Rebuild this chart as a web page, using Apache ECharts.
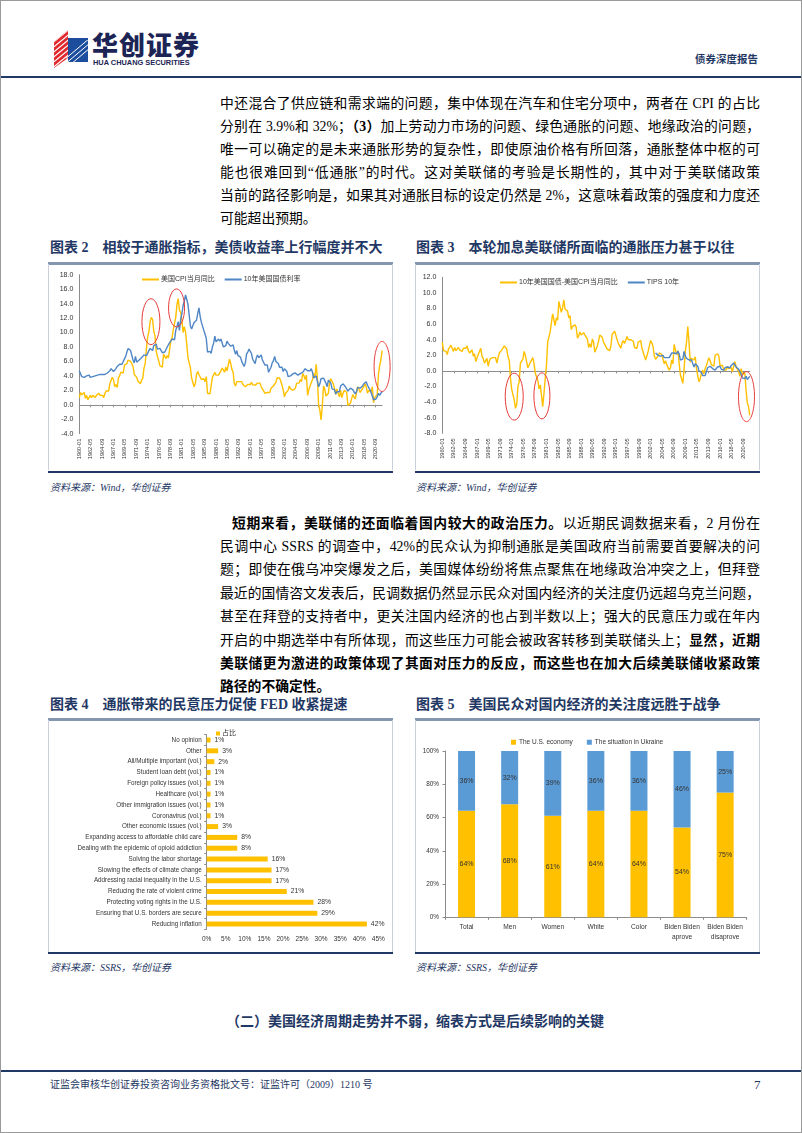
<!DOCTYPE html>
<html><head><meta charset="utf-8">
<script src="https://cdn.jsdelivr.net/npm/echarts@6/dist/echarts.min.js"></script>
<style>
html,body{margin:0;padding:0;background:#fff;}
#page{position:relative;width:802px;height:1133px;overflow:hidden;background:#fff;font-family:"Liberation Serif","Noto Sans CJK SC",serif;color:#000;}
#frame{position:absolute;left:0;top:0;width:800px;height:1131px;border:1px solid #9a9a9a;pointer-events:none;}
.ln{position:absolute;left:220px;width:540px;height:23px;line-height:23px;font-size:13.8px;text-align:justify;text-align-last:justify;}
.ln.last{text-align-last:left;}
.ttl{position:absolute;font-size:14px;font-weight:bold;color:#1f3864;line-height:16px;white-space:nowrap;}
.ttl span.t{margin-left:14px;}
.src{position:absolute;font-size:10px;font-style:italic;color:#1f3864;white-space:nowrap;line-height:12px;}
.rule{position:absolute;height:3px;background:#8497b0;}
.navy{position:absolute;height:2px;background:#1f3864;}
.side{position:absolute;width:1px;background:#c9d0dc;}
.chart{position:absolute;}
</style></head><body><div id="page">

<!-- header -->
<svg style="position:absolute;left:54px;top:30px" width="36" height="38" viewBox="0 0 36 38">
  <defs><clipPath id="cr"><polygon points="0,12 14,0 14,28 0,38"/></clipPath>
  <clipPath id="cb"><polygon points="12,10 34,10 34,32 12,32"/></clipPath></defs>
  <polygon points="0,12 14,0 14,28 0,38" fill="#e0282d"/>
  <g clip-path="url(#cr)" stroke="#fff" stroke-width="1.2">
    <line x1="-4" y1="10" x2="18" y2="-8"/><line x1="-4" y1="15" x2="18" y2="-3"/><line x1="-4" y1="20" x2="18" y2="2"/>
    <line x1="-4" y1="25" x2="18" y2="7"/><line x1="-4" y1="30" x2="18" y2="12"/><line x1="-4" y1="35" x2="18" y2="17"/>
    <line x1="-4" y1="40" x2="18" y2="22"/><line x1="-4" y1="45" x2="18" y2="27"/>
  </g>
  <polygon points="14,8 34,8 34,32 14,32" fill="#1d4e9e"/>
  <g clip-path="url(#cb)" stroke="#fff" stroke-width="1">
    <line x1="10" y1="30" x2="36" y2="8"/><line x1="10" y1="35" x2="36" y2="13"/><line x1="10" y1="40" x2="36" y2="18"/>
  </g>
</svg>
<div style="position:absolute;left:92px;top:29px;font-family:'Noto Sans CJK SC';font-weight:900;font-size:26px;letter-spacing:1px;color:#1b2455;line-height:30px;">华创证券</div>
<div style="position:absolute;left:93px;top:58px;font-family:'Liberation Sans';font-weight:bold;font-size:7.4px;color:#1b2455;line-height:9px;white-space:nowrap;">HUA CHUANG SECURITIES</div>
<div style="position:absolute;left:695px;top:52px;font-family:'Noto Sans CJK SC';font-weight:bold;font-size:10.5px;color:#1f3864;line-height:14px;">债券深度报告</div>
<div class="navy" style="left:0;top:76px;width:802px;height:2px;"></div>

<!-- paragraph 1 -->
<div class="ln" style="top:92px">中还混合了供应链和需求端的问题，集中体现在汽车和住宅分项中，两者在 CPI 的占比</div>
<div class="ln" style="top:115px">分别在 3.9%和 32%；<b>（3）</b>加上劳动力市场的问题、绿色通胀的问题、地缘政治的问题，</div>
<div class="ln" style="top:138px">唯一可以确定的是未来通胀形势的复杂性，即使原油价格有所回落，通胀整体中枢的可</div>
<div class="ln" style="top:161px">能也很难回到“低通胀”的时代。这对美联储的考验是长期性的，其中对于美联储政策</div>
<div class="ln" style="top:184px">当前的路径影响是，如果其对通胀目标的设定仍然是 2%，这意味着政策的强度和力度还</div>
<div class="ln last" style="top:207px">可能超出预期。</div>

<!-- titles row 1 -->
<div class="ttl" style="left:50px;top:240px">图表 2<span class="t">相较于通胀指标，美债收益率上行幅度并不大</span></div>
<div class="ttl" style="left:416px;top:240px">图表 3<span class="t">本轮加息美联储所面临的通胀压力甚于以往</span></div>
<div class="rule" style="left:48px;top:262px;width:345px"></div>
<div class="rule" style="left:415px;top:262px;width:345px"></div>
<div class="side" style="left:48px;top:264px;height:206px"></div>
<div class="side" style="left:392px;top:264px;height:206px"></div>
<div class="side" style="left:415px;top:264px;height:206px"></div>
<div class="side" style="left:759px;top:264px;height:206px"></div>
<div class="chart" id="c1" style="left:49px;top:265px;width:343px;height:204px"></div>
<div class="chart" id="c3" style="left:416px;top:265px;width:343px;height:204px"></div>
<div class="navy" style="left:48px;top:471px;width:345px"></div>
<div class="navy" style="left:415px;top:471px;width:345px"></div>
<div class="src" style="left:50px;top:482px">资料来源：Wind，华创证券</div>
<div class="src" style="left:416px;top:482px">资料来源：Wind，华创证券</div>

<!-- paragraph 2 -->
<div class="ln" style="top:511.5px;left:232px;width:528px"><b>短期来看，美联储的还面临着国内较大的政治压力。</b>以近期民调数据来看，2 月份在</div>
<div class="ln" style="top:534.9px">民调中心 SSRS 的调查中，42%的民众认为抑制通胀是美国政府当前需要首要解决的问</div>
<div class="ln" style="top:558.3px">题；即使在俄乌冲突爆发之后，美国媒体纷纷将焦点聚焦在地缘政治冲突之上，但拜登</div>
<div class="ln" style="top:581.7px">最近的国情咨文发表后，民调数据仍然显示民众对国内经济的关注度仍远超乌克兰问题，</div>
<div class="ln" style="top:605.1px">甚至在拜登的支持者中，更关注国内经济的也占到半数以上；强大的民意压力或在年内</div>
<div class="ln" style="top:628.5px">开启的中期选举中有所体现，而这些压力可能会被政客转移到美联储头上；<b>显然，近期</b></div>
<div class="ln" style="top:651.9px"><b>美联储更为激进的政策体现了其面对压力的反应，而这些也在加大后续美联储收紧政策</b></div>
<div class="ln last" style="top:675.3px"><b>路径的不确定性。</b></div>

<!-- titles row 2 -->
<div class="ttl" style="left:50px;top:697px">图表 4<span class="t">通胀带来的民意压力促使 FED 收紧提速</span></div>
<div class="ttl" style="left:416px;top:697px">图表 5<span class="t">美国民众对国内经济的关注度远胜于战争</span></div>
<div class="rule" style="left:48px;top:718px;width:345px"></div>
<div class="rule" style="left:415px;top:718px;width:345px"></div>
<div class="side" style="left:48px;top:720px;height:232px"></div>
<div class="side" style="left:392px;top:720px;height:232px"></div>
<div class="side" style="left:415px;top:720px;height:232px"></div>
<div class="side" style="left:759px;top:720px;height:232px"></div>
<div class="chart" id="c4" style="left:49px;top:721px;width:343px;height:231px"></div>
<div class="chart" id="c5" style="left:416px;top:721px;width:343px;height:231px"></div>
<div class="navy" style="left:48px;top:952px;width:345px"></div>
<div class="navy" style="left:415px;top:952px;width:345px"></div>
<div class="src" style="left:50px;top:962px">资料来源：SSRS，华创证券</div>
<div class="src" style="left:416px;top:962px">资料来源：SSRS，华创证券</div>

<div style="position:absolute;left:226px;top:1013px;font-size:14px;font-weight:bold;color:#1f3864;line-height:18px;white-space:nowrap;">（二）美国经济周期走势并不弱，缩表方式是后续影响的关键</div>

<!-- footer -->
<div class="navy" style="left:0;top:1070px;width:802px;height:2px;"></div>
<div style="position:absolute;left:50px;top:1078px;font-size:10px;color:#1f3864;line-height:14px;white-space:nowrap;">证监会审核华创证券投资咨询业务资格批文号：证监许可（2009）1210 号</div>
<div style="position:absolute;left:754px;top:1077px;font-size:13px;color:#1f3864;line-height:16px;">7</div>
<div id="frame"></div>
</div>

<script>
// ---------- monthly category labels (1960-01 .. 2022-01) ----------
const months = [];
for (let y = 1960; y <= 2022; y++) {
  for (let m = 1; m <= 12; m++) {
    if (y === 2022 && m > 1) break;
    months.push(y + '-' + (m < 10 ? '0' : '') + m);
  }
}
// quarterly readings (Jan, Apr, Jul, Oct of each year)
const cpiYoY = [
1.0,1.7,1.4,1.4, /*1960*/ 1.7,0.9,1.3,0.7, 0.7,1.3,1.0,1.3, 1.3,1.0,1.3,1.3, 1.6,1.3,1.3,1.3,
1.0,1.6,1.9,1.9, /*1965*/ 1.9,2.9,2.8,3.8, 3.5,2.5,2.8,2.4, 3.7,4.0,4.5,4.5, 4.4,5.5,5.4,5.7,
6.2,6.1,6.0,5.7, /*1970*/ 5.3,4.2,4.4,3.8, 3.3,3.5,2.9,3.4, 3.7,5.1,5.7,7.8, 9.4,10.1,11.5,12.1,
11.8,10.2,9.5,7.4, /*1975*/ 6.7,6.1,5.4,5.5, 5.2,7.0,6.7,6.4, 6.8,6.5,7.7,8.9, 9.3,10.4,11.3,12.1,
13.9,14.7,13.1,12.8, /*1980*/ 11.8,10.0,10.8,10.1, 8.4,6.5,6.4,5.1, 3.7,3.9,2.5,2.9, 4.2,4.6,4.2,4.3,
3.5,3.7,3.6,3.2, /*1985*/ 3.9,1.6,1.6,1.5, 1.5,3.8,3.9,4.5, 4.1,3.9,4.1,4.3, 4.7,5.1,5.0,4.5,
5.2,4.7,4.8,6.3, /*1990*/ 5.7,4.9,4.5,2.9, 2.6,3.2,3.2,3.2, 3.3,3.2,2.8,2.8, 2.5,2.4,2.8,2.6,
2.8,3.1,2.8,2.8, /*1995*/ 2.7,2.9,3.0,3.0, 3.0,2.5,2.2,2.1, 1.6,1.4,1.7,1.5, 1.7,2.3,2.1,2.6,
2.7,3.1,3.7,3.5, /*2000*/ 3.7,3.3,2.7,2.1, 1.1,1.6,1.5,2.0, 2.6,2.2,2.1,2.0, 1.9,2.3,3.0,3.2,
3.0,3.5,3.2,4.3, /*2005*/ 4.0,3.5,4.1,1.3, 2.1,2.6,2.4,3.5, 4.3,3.9,5.6,3.7, 0.0,-0.7,-2.1,-0.2,
2.6,2.2,1.2,1.2, /*2010*/ 1.6,3.2,3.6,3.5, 2.9,2.3,1.4,2.2, 1.6,1.1,2.0,1.0, 1.6,2.0,2.0,1.7,
-0.1,-0.2,0.2,0.2, /*2015*/ 1.4,1.1,0.8,1.6, 2.5,2.2,1.7,2.0, 2.1,2.5,2.9,2.5, 1.6,2.0,1.8,1.8,
2.5,0.3,1.0,1.2, /*2020*/ 1.4,4.2,5.4,6.2, 7.5];
const ust10y = [
4.7,4.3,3.9,3.9, /*1960*/ 3.8,3.8,4.0,4.0, 4.1,3.8,4.0,3.9, 3.8,4.0,4.0,4.1, 4.2,4.2,4.2,4.2,
4.2,4.2,4.2,4.4, /*1965*/ 4.6,4.7,5.0,5.0, 4.6,4.6,5.0,5.3, 5.5,5.6,5.5,5.6, 6.0,6.1,6.7,7.3,
7.8,7.8,7.5,7.3, /*1970*/ 6.2,5.8,6.7,5.9, 6.0,6.2,6.1,6.5, 6.5,6.9,7.1,6.8, 7.0,7.5,7.8,7.9,
7.5,8.2,8.1,8.4, /*1975*/ 7.7,7.6,7.8,7.5, 7.2,7.4,7.3,7.5, 8.0,8.2,8.6,8.6, 9.1,9.2,9.0,10.3,
10.8,11.5,10.3,11.8, /*1980*/ 12.6,13.7,14.3,15.2, 14.6,13.9,14.0,10.9, 10.5,10.4,11.4,11.5, 11.7,12.6,13.4,12.2,
11.4,11.4,10.3,10.4, /*1985*/ 9.2,7.3,7.3,7.4, 7.1,8.0,8.5,9.5, 8.7,8.7,9.1,8.8, 9.1,9.2,8.0,8.0,
8.2,8.8,8.5,8.7, /*1990*/ 8.1,8.0,8.3,7.5, 7.0,7.5,6.8,6.6, 6.6,6.0,5.8,5.3, 5.8,7.0,7.3,7.7,
7.8,7.1,6.3,6.0, /*1995*/ 5.7,6.5,6.9,6.5, 6.6,6.9,6.2,6.0, 5.5,5.6,5.5,4.5, 4.7,5.2,5.8,6.1,
6.7,6.0,6.1,5.7, /*2000*/ 5.2,5.1,5.2,4.6, 5.0,5.2,4.6,3.9, 4.1,4.0,4.0,4.3, 4.2,4.4,4.5,4.1,
4.2,4.3,4.2,4.5, /*2005*/ 4.4,5.0,5.1,4.7, 4.8,4.7,5.0,4.5, 3.7,3.7,4.0,3.8, 2.5,2.9,3.6,3.4,
3.7,3.9,3.0,2.5, /*2010*/ 3.4,3.5,3.0,2.2, 2.0,2.1,1.5,1.8, 1.9,1.8,2.6,2.6, 2.9,2.7,2.5,2.3,
1.9,1.9,2.3,2.1, /*2015*/ 2.1,1.8,1.5,1.8, 2.4,2.3,2.3,2.4, 2.6,2.9,2.9,3.2, 2.7,2.5,2.1,1.7,
1.8,0.7,0.6,0.8, /*2020*/ 1.1,1.6,1.3,1.6, 1.8];
const realGap = [
3.7,2.6,2.5,2.5, /*1960*/ 2.1,2.8,2.7,3.3, 3.4,2.5,3.0,2.6, 2.5,3.0,2.7,2.8, 2.5,2.9,2.9,2.9,
3.2,2.6,2.3,2.4, /*1965*/ 2.7,1.9,2.2,1.2, 1.1,2.1,2.2,2.9, 1.9,1.6,1.0,1.1, 1.6,0.6,1.3,1.6,
1.6,1.7,1.6,1.7, /*1970*/ 1.0,1.7,2.3,2.1, 2.7,2.7,3.2,3.1, 2.8,1.8,1.4,-1.0, -2.4,-2.6,-3.7,-4.8,
-4.3,-2.0,-1.4,1.0, /*1975*/ 1.0,1.5,2.5,2.0, 2.0,0.4,0.6,1.1, 1.1,1.7,0.9,-0.3, -0.2,-1.2,-2.3,-1.8,
-3.1,-4.6,-2.9,-1.0, /*1980*/ 0.7,3.7,3.5,5.0, 6.2,7.3,7.5,5.8, 6.8,6.5,8.9,8.7, 7.5,8.1,9.1,7.9,
7.9,7.7,6.8,7.1, /*1985*/ 5.3,5.7,5.7,5.9, 5.6,4.2,4.5,5.0, 4.6,4.8,4.9,4.6, 4.4,4.1,3.0,3.5,
3.0,4.1,3.7,2.4, /*1990*/ 2.4,3.2,3.8,4.6, 4.4,4.3,3.7,3.4, 3.3,2.8,3.0,2.6, 3.2,4.7,4.5,5.1,
5.0,4.0,3.5,3.2, /*1995*/ 2.9,3.6,3.9,3.5, 3.5,4.4,4.0,4.0, 4.0,4.2,3.8,3.0, 3.1,2.9,3.7,3.6,
3.9,2.9,2.4,2.3, /*2000*/ 1.4,1.9,2.5,2.4, 3.9,3.6,3.1,1.9, 1.5,1.7,1.9,2.3, 2.2,2.1,1.5,0.9,
1.3,0.8,1.0,0.1, /*2005*/ 0.4,1.4,0.9,3.4, 2.7,2.1,2.6,1.0, -0.5,-0.3,-1.6,0.2, 2.5,3.7,5.7,3.6,
1.1,1.6,1.8,1.4, /*2010*/ 1.8,0.3,-0.6,-1.4, -1.0,-0.3,0.1,-0.4, 0.3,0.7,0.6,1.7, 1.3,0.8,0.6,0.6,
2.0,2.1,2.2,1.9, /*2015*/ 0.7,0.7,0.7,0.1, -0.1,0.1,0.6,0.3, 0.5,0.4,-0.1,0.6, 1.2,0.5,0.3,-0.1,
-0.7,0.3,-0.4,-0.4, /*2020*/ -0.3,-2.5,-4.1,-4.6, -5.7];
const tipsStart = '2003-01';
const tips10y = [
2.3,2.2,2.0,2.0, /*2003*/ 1.9,1.8,2.0,1.7, 1.7,1.7,1.7,1.7, 2.0,2.3,2.4,2.3, 2.4,2.2,2.5,2.2,
1.4,1.3,1.5,2.5, /*2008*/ 1.9,1.6,1.8,1.4, 1.4,1.4,1.3,0.5, 0.9,0.7,0.6,0.0, -0.1,-0.2,-0.6,-0.8,
-0.6,-0.7,0.4,0.4, /*2013*/ 0.6,0.5,0.3,0.4, 0.1,0.1,0.5,0.6, 0.6,0.2,0.0,0.1, 0.4,0.5,0.5,0.5,
0.4,0.7,0.7,1.0, /*2018*/ 0.9,0.5,0.3,0.2, 0.1,-0.4,-0.9,-0.9, -1.0,-0.7,-1.1,-1.0, -0.7];

// survey data
const issues = ['No opinion','Other','All/Multiple important (vol.)','Student loan debt (vol.)','Foreign policy issues (vol.)','Healthcare (vol.)','Other immigration issues (vol.)','Coronavirus (vol.)','Other economic issues (vol.)','Expanding access to affordable child care','Dealing with the epidemic of opioid addiction','Solving the labor shortage','Slowing the effects of climate change','Addressing racial inequality in the U.S.','Reducing the rate of violent crime','Protecting voting rights in the U.S.','Ensuring that U.S. borders are secure','Reducing inflation'];
const issueShare = [1,3,2,1,1,1,1,1,3,8,8,16,17,17,21,28,29,42];
const groups = ['Total','Men','Women','White','Color','Biden Biden\naprove','Biden Biden\ndisaprove'];
const economyShare = [64,68,61,64,64,54,75];
const ukraineShare = [36,32,39,36,36,46,25];

// place quarterly readings on the monthly category axis
function onMonths(q, start) {
  const s = months.indexOf(start);
  const arr = new Array(months.length).fill(null);
  q.forEach((v, i) => { const k = s + i * 3; if (k < arr.length) arr[k] = v; });
  return arr;
}

const FONT = "'Liberation Sans','Noto Sans CJK SC',sans-serif";
const AX = '#8c8c8c', TXT = '#333';

function lineOption(cfg) {
  return {
    animation: false,
    textStyle: { fontFamily: FONT },
    grid: cfg.grid,
    legend: {
      left: cfg.legendLeft, top: cfg.legendTop, itemWidth: 17, itemHeight: 2, itemGap: 10, icon: 'rect',
      textStyle: { fontSize: 7, color: TXT, fontFamily: FONT, padding: [0, 0, 0, -3] }
    },
    xAxis: [
      { type: 'category', data: months, boundaryGap: false, position: 'bottom',
        axisLine: { show: false, onZero: false }, axisTick: { show: false },
        axisLabel: { interval: 27, rotate: 90, fontSize: 5.6, color: TXT, margin: 5 },
        splitLine: { show: false } },
      { type: 'category', data: months, boundaryGap: false, position: 'bottom',
        axisLine: { show: true, onZero: true, lineStyle: { color: AX, width: 1 } },
        axisTick: { show: true, interval: 27, length: 2.5, lineStyle: { color: AX } },
        axisLabel: { show: false }, splitLine: { show: false } }
    ],
    yAxis: {
      type: 'value', min: cfg.min, max: cfg.max, interval: 2,
      axisLine: { show: true, lineStyle: { color: AX } },
      axisTick: { show: false },
      axisLabel: { fontSize: 7, color: TXT, margin: 6, formatter: v => v.toFixed(1) },
      splitLine: { show: false }
    },
    series: cfg.series.map(s => ({
      type: 'line', name: s.name, data: s.data, xAxisIndex: 0, connectNulls: true,
      showSymbol: false, symbol: 'none', lineStyle: { width: 1.4, color: s.color }, itemStyle: { color: s.color }
    }))
  };
}

function addEllipses(chart, list) {
  const els = list.map(e => {
    const p = chart.convertToPixel({ xAxisIndex: 0, yAxisIndex: 0 }, [e.at, e.v]);
    return { type: 'ellipse', shape: { cx: p[0], cy: p[1], rx: e.rx, ry: e.ry },
             style: { fill: 'none', stroke: '#e53a3a', lineWidth: 1 }, z: 100 };
  });
  chart.setOption({ graphic: { elements: els } });
}

// Chart 2
const c1 = echarts.init(document.getElementById('c1'), null, { renderer: 'canvas' });
c1.setOption(lineOption({
  grid: { left: 30.3, right: 9.9, top: 9.7, bottom: 35.3 },
  legendLeft: 88, legendTop: 6, min: -4, max: 18,
  series: [
    { name: '美国CPI当月同比', data: onMonths(cpiYoY, '1960-01'), color: '#FFC000' },
    { name: '10年美国国债利率', data: onMonths(ust10y, '1960-01'), color: '#4F86C6' }
  ]
}));
addEllipses(c1, [
  { at: '1974-09', v: 11.5, rx: 9, ry: 23 },
  { at: '1979-12', v: 13.4, rx: 8, ry: 19 },
  { at: '2022-01', v: 5.3, rx: 8, ry: 25 }
]);

// Chart 3
const c3 = echarts.init(document.getElementById('c3'), null, { renderer: 'canvas' });
c3.setOption(lineOption({
  grid: { left: 26.3, right: 9.2, top: 12.3, bottom: 35.7 },
  legendLeft: 79, legendTop: 9, min: -8, max: 12,
  series: [
    { name: '10年美国国债-美国CPI当月同比', data: onMonths(realGap, '1960-01'), color: '#FFC000' },
    { name: 'TIPS 10年', data: onMonths(tips10y, tipsStart), color: '#4F86C6' }
  ]
}));
addEllipses(c3, [
  { at: '1974-07', v: -3.3, rx: 9, ry: 23.5 },
  { at: '1980-02', v: -3.2, rx: 8, ry: 23 },
  { at: '2021-05', v: -3.3, rx: 8, ry: 25 }
]);

// Chart 4
const c4 = echarts.init(document.getElementById('c4'));
c4.setOption({
  animation: false,
  textStyle: { fontFamily: FONT },
  grid: { left: 157.7, right: 13.7, top: 13.6, bottom: 22.6 },
  legend: { data: ['占比'], left: 162, top: 4, icon: 'rect', itemWidth: 4, itemHeight: 4,
            textStyle: { fontSize: 7, color: TXT, padding: [0, 0, 0, -3] } },
  xAxis: { type: 'value', min: 0, max: 45, interval: 5,
           axisLine: { show: false }, axisTick: { show: false }, splitLine: { show: false },
           axisLabel: { formatter: '{value}%', fontSize: 6.5, color: TXT, margin: 7 } },
  yAxis: { type: 'category', data: issues, inverse: true,
           axisLine: { show: true, lineStyle: { color: AX } },
           axisTick: { show: true, length: 2.5, lineStyle: { color: AX } },
           axisLabel: { fontSize: 6.3, color: TXT, margin: 5, interval: 0 } },
  series: [{ type: 'bar', name: '占比', data: issueShare, barWidth: 5,
             itemStyle: { color: '#FFC000' },
             label: { show: true, position: 'right', formatter: '{c}%', fontSize: 6.8, color: TXT, distance: 4 } }]
});

// Chart 5
const c5 = echarts.init(document.getElementById('c5'));
c5.setOption({
  animation: false,
  textStyle: { fontFamily: FONT },
  grid: { left: 29, right: 12.3, top: 30, bottom: 34.7 },
  legend: { left: 90, top: 13, icon: 'rect', itemWidth: 5, itemHeight: 5, itemGap: 14,
            textStyle: { fontSize: 6.5, color: TXT, padding: [0, 0, 0, -2] } },
  xAxis: { type: 'category', data: groups,
           axisLine: { show: true, lineStyle: { color: AX } },
           axisTick: { show: true, length: 2.5, lineStyle: { color: AX } },
           axisLabel: { fontSize: 6.6, color: TXT, margin: 5, lineHeight: 10, interval: 0 } },
  yAxis: { type: 'value', min: 0, max: 100, interval: 20,
           axisLine: { show: true, lineStyle: { color: AX } },
           axisTick: { show: true, length: 2.5, lineStyle: { color: AX } },
           splitLine: { show: false },
           axisLabel: { formatter: '{value}%', fontSize: 6.4, color: TXT, margin: 6 } },
  series: [
    { type: 'bar', name: 'The U.S. economy', stack: 'all', data: economyShare, barWidth: 17,
      itemStyle: { color: '#FFC000' },
      label: { show: true, position: 'inside', formatter: '{c}%', fontSize: 7, color: '#333' } },
    { type: 'bar', name: 'The situation in Ukraine', stack: 'all', data: ukraineShare, barWidth: 17,
      itemStyle: { color: '#5B9BD5' },
      label: { show: true, position: 'inside', formatter: '{c}%', fontSize: 7, color: '#333' } }
  ]
});
</script>
</body></html>
